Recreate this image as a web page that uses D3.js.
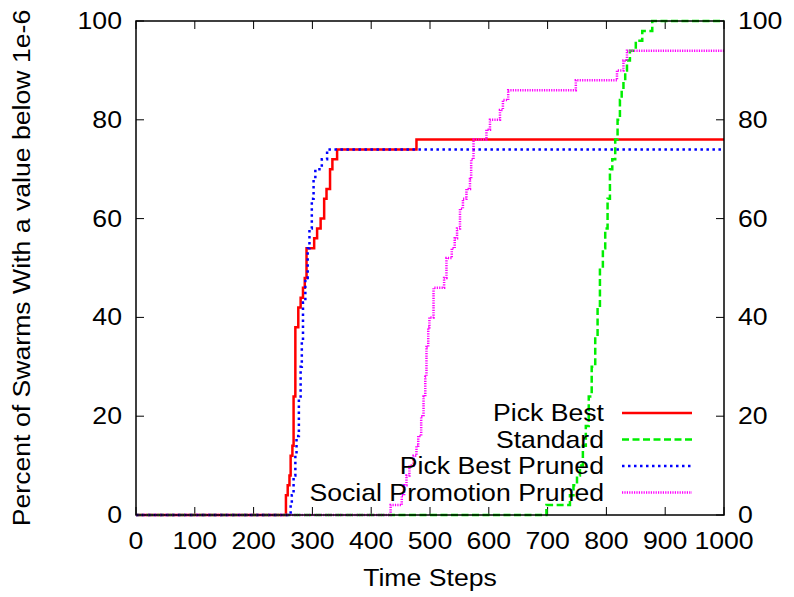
<!DOCTYPE html>
<html>
<head>
<meta charset="utf-8">
<script src="https://cdn.jsdelivr.net/npm/d3@7"></script>
<style>
  html, body { margin: 0; padding: 0; background: #fff; }
  svg text { font-family: "Liberation Sans", Arial, sans-serif; fill: #000; }
</style>
</head>
<body>
<svg id="main-svg" width="794" height="597"></svg>
<script>
// step data: [time step, percent]
const pickBest = [[0,0],[255,4],[258,6],[261,8],[263,12],[266,14],[268,24],[271,38],[276,42],[280,44],[284,46],[287,48],[290,54],[303,56],[308,58],[314,60],[320,64],[324,66],[330,70],[334,72],[342,74],[477,76],[1000,76]];
const standard = [[0,0],[698,2],[738,4],[744,6],[750,8],[755,10],[760,14],[765,18],[770,24],[775,30],[781,36],[785,42],[789,50],[794,54],[798,58],[802,64],[806,70],[810,72],[815,76],[819,80],[823,84],[826,86],[829,88],[832,90],[835,92],[840,94],[850,96],[861,98],[878,100],[1000,100]];
const pickBestPruned = [[0,0],[263,2],[265,4],[268,8],[271,12],[273,16],[277,24],[280,30],[282,35],[284,43],[288,48],[292,54],[295,58],[299,64],[302,68],[305,70],[316,72],[325,74],[1000,74]];
const socialPromotionPruned = [[0,0],[433,2],[452,4],[456,6],[460,8],[465,10],[472,12],[477,14],[480,16],[485,20],[489,24],[492,28],[494,34],[497,38],[499,40],[506,46],[524,48],[528,52],[537,54],[542,56],[546,58],[551,62],[556,64],[562,66],[568,68],[570,72],[574,76],[596,78],[602,80],[619,82],[624,84],[633,86],[748,88],[818,90],[829,92],[835,94],[1000,94]];

const xTicks = [0,100,200,300,400,500,600,700,800,900,1000];
const yTicks = [0,20,40,60,80,100];

const series = [
  { name: "Pick Best", data: pickBest, color: "#ff0000", dash: null },
  { name: "Standard", data: standard, color: "#00ee00", dash: "7,3.5" },
  { name: "Pick Best Pruned", data: pickBestPruned, color: "#0000ff", dash: "2.5,3.5" },
  { name: "Social Promotion Pruned", data: socialPromotionPruned, color: "#ff00ff", dash: "1.2,1.2" }
];

const svg = d3.select("#main-svg");
const plotLeft = 136, plotRight = 724, plotTop = 21, plotBottom = 515;
const fontSize = 24;
const stretch = 1.11; // the reference font is a bit wider than Liberation Sans

const x = d3.scaleLinear().domain([0, 1000]).range([plotLeft, plotRight]);
const y = d3.scaleLinear().domain([0, 100]).range([plotBottom, plotTop]);

// text helper: positions the text and widens it a little
function label(parent, tx, ty, anchor, str, rotate) {
  return parent.append("text")
    .attr("transform", `translate(${tx},${ty})` + (rotate ? ` rotate(${rotate})` : "") + ` scale(${stretch},1)`)
    .attr("text-anchor", anchor)
    .attr("font-size", fontSize)
    .text(str);
}

// ticks (inward, mirrored like gnuplot)
const tickLen = 8;
const g = svg.append("g").attr("stroke", "#000").attr("stroke-width", 1);
xTicks.forEach(t => {
  g.append("line").attr("x1", x(t)).attr("x2", x(t)).attr("y1", plotBottom).attr("y2", plotBottom - tickLen);
  g.append("line").attr("x1", x(t)).attr("x2", x(t)).attr("y1", plotTop).attr("y2", plotTop + tickLen);
});
yTicks.forEach(t => {
  g.append("line").attr("x1", plotLeft).attr("x2", plotLeft + tickLen).attr("y1", y(t)).attr("y2", y(t));
  g.append("line").attr("x1", plotRight).attr("x2", plotRight - tickLen).attr("y1", y(t)).attr("y2", y(t));
});

// tick labels
const labels = svg.append("g");
xTicks.forEach(t => label(labels, x(t), plotBottom + 34, "middle", t));
yTicks.forEach(t => label(labels, plotLeft - 14, y(t) + 8, "end", t));
yTicks.forEach(t => label(labels, plotRight + 14, y(t) + 8, "start", t));

// axis titles
label(svg, (plotLeft + plotRight) / 2, 586, "middle", "Time Steps");
label(svg, 30, (plotTop + plotBottom) / 2, "middle", "Percent of Swarms With a value below 1e-6", -90);

// lines
const line = d3.line()
  .x(d => x(d[0]))
  .y(d => y(d[1]))
  .curve(d3.curveStepAfter);

series.forEach(s => {
  svg.append("path")
    .datum(s.data)
    .attr("fill", "none")
    .attr("stroke", s.color)
    .attr("stroke-width", 2.5)
    .attr("stroke-dasharray", s.dash)
    .attr("d", line);
});

// frame
svg.append("rect")
  .attr("x", plotLeft).attr("y", plotTop)
  .attr("width", plotRight - plotLeft).attr("height", plotBottom - plotTop)
  .attr("fill", "none").attr("stroke", "#000").attr("stroke-width", 1.5);

// legend
const legend = svg.append("g");
series.forEach((s, i) => {
  const ly = 413 + i * 26.5;
  label(legend, 604, ly + 8, "end", s.name);
  legend.append("line")
    .attr("x1", 622).attr("x2", 692).attr("y1", ly).attr("y2", ly)
    .attr("stroke", s.color).attr("stroke-width", 2.5)
    .attr("stroke-dasharray", s.dash);
});
</script>
</body>
</html>
